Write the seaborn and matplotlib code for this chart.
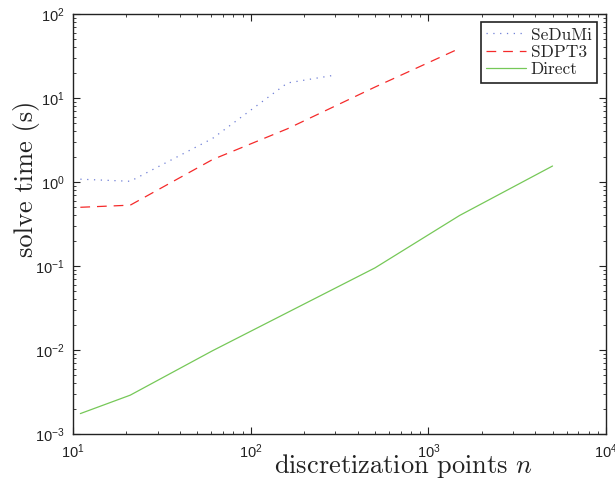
import numpy as np
import pandas as pd
import matplotlib
matplotlib.use("Agg")
import matplotlib.pyplot as plt
from matplotlib.ticker import FuncFormatter, LogLocator, NullFormatter
import seaborn as sns

# -------------------------
# DATA
# -------------------------
sedumi_n = [11, 21, 61, 161, 301]
sedumi_t = [1.08, 1.02, 3.3, 15.1, 18.8]

sdpt3_n = [11, 21, 61, 161, 501, 1501]
sdpt3_t = [0.50, 0.53, 1.85, 4.3, 13.5, 39.0]

direct_n = [11, 21, 61, 501, 1501, 5001]
direct_t = [0.00175, 0.0029, 0.0098, 0.095, 0.40, 1.55]

series_names = ["SeDuMi", "SDPT3", "Direct"]

# -------------------------
# STYLE
# -------------------------
sns.set_style("ticks")
plt.rcParams["font.family"] = ["Liberation Sans", "DejaVu Sans"]
plt.rcParams["mathtext.fontset"] = "cm"
plt.rcParams["lines.scale_dashes"] = False
plt.rcParams["xtick.direction"] = "in"
plt.rcParams["ytick.direction"] = "in"

fig = plt.figure(figsize=(6.15, 4.83), dpi=100)
ax = fig.add_axes([73 / 615, 1 - 434 / 483, 533 / 615, 420 / 483])

df = pd.concat([
    pd.DataFrame({"n": sedumi_n, "t": sedumi_t, "solver": series_names[0]}),
    pd.DataFrame({"n": sdpt3_n, "t": sdpt3_t, "solver": series_names[1]}),
    pd.DataFrame({"n": direct_n, "t": direct_t, "solver": series_names[2]}),
])

colors = {"SeDuMi": "#6f7fd6", "SDPT3": "#f52a2a", "Direct": "#76c858"}
dashes = {"SeDuMi": (0.9, 4.0), "SDPT3": (7.0, 5.0), "Direct": ""}

sns.lineplot(data=df, x="n", y="t", hue="solver", style="solver",
             palette=colors, dashes=dashes, linewidth=0.9,
             sort=False, estimator=None, ax=ax, legend=True)

ax.set_xscale("log")
ax.set_yscale("log")
ax.set_xlim(10, 1e4)
ax.set_ylim(1e-3, 1e2)


def pow_fmt(v, pos):
    e = int(round(np.log10(v)))
    return r"$\mathregular{10^{%d}}$" % e


ax.xaxis.set_major_locator(LogLocator(base=10, numticks=10))
ax.yaxis.set_major_locator(LogLocator(base=10, numticks=10))
ax.xaxis.set_minor_locator(LogLocator(base=10, subs=np.arange(2, 10), numticks=20))
ax.yaxis.set_minor_locator(LogLocator(base=10, subs=np.arange(2, 10), numticks=20))
ax.xaxis.set_major_formatter(FuncFormatter(pow_fmt))
ax.yaxis.set_major_formatter(FuncFormatter(pow_fmt))
ax.xaxis.set_minor_formatter(NullFormatter())
ax.yaxis.set_minor_formatter(NullFormatter())

ax.tick_params(which="both", top=True, right=True, direction="in",
               color="#222222", labelsize=10.5, labelcolor="#222222")
ax.tick_params(which="major", length=5, width=0.8, pad=6)
ax.tick_params(which="minor", length=2.5, width=0.6)

for sp in ax.spines.values():
    sp.set_color("#222222")
    sp.set_linewidth(1.0)

# labels sit off-centre like in the original (psfrag style)
ax.set_xlabel(r"discretization points $n$", fontfamily="cmr10", fontsize=19,
              color="#222222")
ax.xaxis.set_label_coords(0.62, -0.075)
ax.xaxis.label.set_va("center")
ax.set_ylabel("solve time (s)", fontfamily="cmr10", fontsize=19,
              color="#222222")
ax.yaxis.set_label_coords(-0.088, 0.607)
ax.yaxis.label.set_va("center")

leg = ax.legend(loc="upper right", bbox_to_anchor=(0.983, 0.981),
                borderaxespad=0, frameon=True, fancybox=False,
                edgecolor="#222222", framealpha=1,
                prop={"family": "cmr10", "size": 12.5},
                handlelength=2.3, handletextpad=0.3, labelspacing=0.12,
                borderpad=0.3)
leg.get_frame().set_linewidth(1.2)

fig.savefig("out.png", dpi=100)
